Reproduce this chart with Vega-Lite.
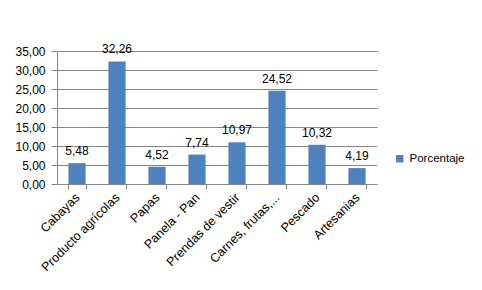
{
  "$schema": "https://vega.github.io/schema/vega-lite/v6.json",
  "autosize": "none",
  "width": 320,
  "height": 133,
  "padding": {"left": 57, "top": 51, "right": 105, "bottom": 106},
  "background": "white",
  "config": {
    "locale": {"number": {"decimal": ",", "thousands": ".", "grouping": [3], "currency": ["", " €"]}},
    "font": "Liberation Sans",
    "view": {"stroke": null}
  },
  "data": {
    "values": [
      {"producto": "Cabayas", "valor": 5.48, "serie": "Porcentaje"},
      {"producto": "Producto agrícolas", "valor": 32.26, "serie": "Porcentaje"},
      {"producto": "Papas", "valor": 4.52, "serie": "Porcentaje"},
      {"producto": "Panela  - Pan", "valor": 7.74, "serie": "Porcentaje"},
      {"producto": "Prendas de vestir", "valor": 10.97, "serie": "Porcentaje"},
      {"producto": "Carnes, frutas,...", "valor": 24.52, "serie": "Porcentaje"},
      {"producto": "Pescado", "valor": 10.32, "serie": "Porcentaje"},
      {"producto": "Artesanias", "valor": 4.19, "serie": "Porcentaje"}
    ]
  },
  "encoding": {
    "x": {
      "field": "producto",
      "type": "nominal",
      "sort": null,
      "scale": {"paddingInner": 0.57, "paddingOuter": 0.285},
      "axis": {
        "title": null,
        "labelAngle": -45,
        "labelAlign": "right",
        "labelBaseline": "middle",
        "labelFontSize": 12.5,
        "labelColor": "#000000",
        "labelPadding": 6,
        "domainColor": "#868686",
        "tickColor": "#868686",
        "tickBand": "extent",
        "tickSize": 5,
        "labelLimit": 200
      }
    },
    "y": {
      "field": "valor",
      "type": "quantitative",
      "scale": {"domain": [0, 35], "nice": false},
      "axis": {
        "title": null,
        "values": [0, 5, 10, 15, 20, 25, 30, 35],
        "format": ".2f",
        "labelFontSize": 12,
        "labelColor": "#000000",
        "labelPadding": 6,
        "domainColor": "#868686",
        "tickColor": "#868686",
        "tickSize": 6,
        "gridColor": "#868686",
        "gridWidth": 1
      }
    }
  },
  "layer": [
    {
      "mark": {"type": "bar", "color": "#4F81BD"},
      "encoding": {
        "color": {
          "field": "serie",
          "type": "nominal",
          "scale": {"range": ["#4F81BD"]},
          "legend": {
            "title": null,
            "orient": "none",
            "legendX": 337,
            "legendY": 102,
            "symbolType": "square",
            "symbolSize": 55,
            "labelFontSize": 11.5,
            "labelColor": "#000000"
          }
        }
      }
    },
    {
      "mark": {"type": "text", "baseline": "bottom", "dy": -5, "fontSize": 12, "color": "#000000"},
      "encoding": {
        "text": {"field": "valor", "type": "quantitative", "format": ".2f"}
      }
    }
  ]
}
